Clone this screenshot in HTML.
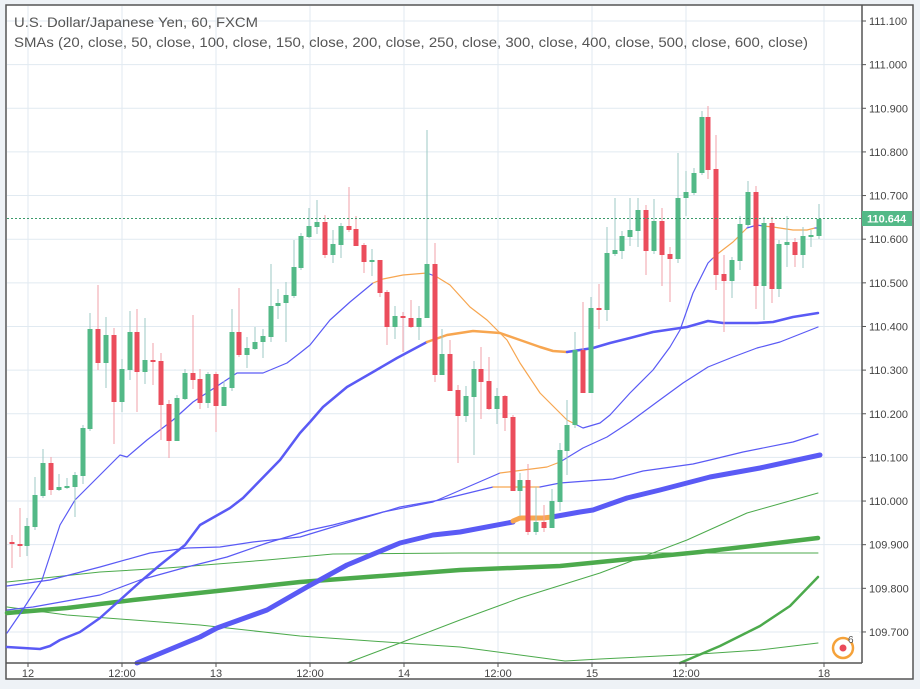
<!DOCTYPE html>
<html><head><meta charset="utf-8"><style>
html,body{margin:0;padding:0;background:#eef2f6;}
body{width:920px;height:689px;overflow:hidden;font-family:"Liberation Sans",sans-serif;}
svg{position:absolute;left:0;top:0;}
</style></head><body>
<svg id="s" width="920" height="689" xmlns="http://www.w3.org/2000/svg">
<rect x="6" y="5" width="907" height="674" fill="#fff" stroke="#555" stroke-width="1.5"/>
<g id="grid" stroke="#e1eaf1" stroke-width="1"></g>
<g id="lines" fill="none" stroke-linejoin="round" stroke-linecap="round"></g>
<g id="candles"></g>
<line x1="7" y1="218.5" x2="862" y2="218.5" stroke="#3b9a6a" stroke-width="1" stroke-dasharray="2,2"/>
<line x1="862" y1="5" x2="862" y2="663" stroke="#555" stroke-width="1.5"/>
<line x1="6" y1="663" x2="862" y2="663" stroke="#555" stroke-width="1.5"/>
<g id="labels" font-size="11" fill="#444"></g>
<rect x="862" y="211" width="50" height="15" fill="#53b987"/>
<text x="867" y="222.5" font-size="11" fill="#fff" font-weight="bold">110.644</text>
<text x="14" y="27" font-size="14" fill="#555" textLength="244" lengthAdjust="spacingAndGlyphs">U.S. Dollar/Japanese Yen, 60, FXCM</text>
<text x="14" y="47" font-size="14" fill="#555" textLength="794" lengthAdjust="spacingAndGlyphs">SMAs (20, close, 50, close, 100, close, 150, close, 200, close, 250, close, 300, close, 400, close, 500, close, 600, close)</text>
<circle cx="843" cy="648" r="10" fill="none" stroke="#f5a23a" stroke-width="2.5"/>
<rect x="849" y="632" width="10" height="10" fill="#fff"/>
<circle cx="843" cy="648" r="3.5" fill="#ea4a5a"/>
<text x="848" y="643" font-size="10" fill="#555">6</text>
</svg>
<script>
var NS="http://www.w3.org/2000/svg";
function el(p,t,a){var e=document.createElementNS(NS,t);for(var k in a)e.setAttribute(k,a[k]);p.appendChild(e);return e;}
var grid=document.getElementById('grid'),lab=document.getElementById('labels');
var labels=["111.100","111.000","110.900","110.800","110.700","110.600","110.500","110.400","110.300","110.200","110.100","110.000","109.900","109.800","109.700"];
for(var i=0;i<15;i++){var y=21+i*43.64;
 el(grid,'line',{x1:7,y1:y,x2:862,y2:y});
 el(lab,'line',{x1:862,y1:y,x2:866,y2:y,stroke:'#555'});
 var t=el(lab,'text',{x:869,y:y+4});t.textContent=labels[i];}
var xs=[[28,"12"],[122,"12:00"],[216,"13"],[310,"12:00"],[404,"14"],[498,"12:00"],[592,"15"],[686,"12:00"],[824,"18"]];
xs.forEach(function(a){el(grid,'line',{x1:a[0],y1:6,x2:a[0],y2:663});
 el(lab,'line',{x1:a[0],y1:663,x2:a[0],y2:667,stroke:'#555'});
 var t=el(lab,'text',{x:a[0],y:677,'text-anchor':'middle'});t.textContent=a[1];});
var L=document.getElementById('lines');
function pl(pts,col,w){el(L,'polyline',{points:pts,stroke:col,'stroke-width':w});}
var B='#5a5af5',O='#f7a650',G='#4caa4c';
pl("7,607 67,615 200,625 300,636 400,643 460,647 520,655 565,661 600,659 700,654 760,650 818,643",G,1);
pl("7,582 100,572 167,568 267,560 333,554 460,553 600,553 818,553",G,1);
pl("347,663 400,643 460,620 520,598 600,573 687,540 747,513 818,493",G,1);
pl("680,663 720,646 760,626 790,606 818,577",G,2.5);
pl("7,613 67,608 133,600 217,591 300,582 367,577 460,570 560,566 620,560 700,552 760,545 818,538",G,4.5);
pl("7,586 50,580 100,567 150,553 187,548 220,547 253,542 300,537 333,527 367,517 400,507 440,500 493,487",B,1.2);
pl("493,487 540,487",O,1.2);
pl("540,487 560,483 613,479 643,471 693,464 710,460 743,452 793,442 818,434",B,1.2);
pl("7,610 33,607 100,595 140,580 187,567 227,557 267,543 310,530 333,525 383,512 433,502 500,473",B,1.2);
pl("500,473 547,467 560,462",O,1.2);
pl("560,462 583,448 607,437 630,422 657,402 683,383 708,367 733,357 757,348 780,342 818,327",B,1.2);
pl("137,663 200,637 217,628 267,610 307,587 347,565 400,543 433,535 460,532 513,522",B,5);
pl("513,521 520,518 543,518 552,517",O,5);
pl("552,517 580,512 593,510 627,498 660,490 710,477 760,468 820,455",B,5);
pl("7,647 40,649 50,646 60,640 80,632 100,618 120,600 140,582 160,565 185,545 200,525 230,508 243,498 280,460 300,433 310,422 323,407 347,387 373,372 397,358 427,342",B,2.5);
pl("427,342 447,335 473,331 500,333 520,340 540,347 553,351 567,352",O,2.5);
pl("567,352 593,348 610,343 630,338 653,332 687,327 708,321 723,323 743,323 757,323 773,322 793,317 818,313",B,2.5);
pl("7,633 20,614 42,580 60,525 75,500 90,485 105,470 120,455 127,457 147,440 173,420 193,402 237,373 263,373 287,363 300,353 310,345 330,320 350,302 373,283",B,1.2);
pl("373,283 383,279 403,275 427,273",O,1.2);
pl("427,273 437,277",B,1.2);
pl("437,277 450,285 470,307 487,320 507,340 520,363 540,393 557,410 567,420 577,425",O,1.2);
pl("577,425 583,428 600,423 610,415 630,393 653,370 670,347 680,330 693,293 708,263 713,258",B,1.2);
pl("713,258 720,252 733,242 747,228",O,1.2);
pl("747,228 757,225 763,226",B,1.2);
pl("763,226 773,227 793,230 807,230 815,228",O,1.2);
pl("815,228 818,228",B,1.2);
var C=[[12,542,544,535,568,'r'],[20,544,546,508,557,'r'],[27,526,546,518,556,'g'],[35,495,527,477,530,'g'],[43,463,496,449,498,'g'],[51,463,490,457,495,'r'],[59,487,490,474,491,'g'],[67,486,488,478,489,'g'],[75,475,487,472,517,'g'],[83,428,476,425,484,'g'],[90,329,429,313,431,'g'],[98,329,363,285,370,'r'],[106,335,363,317,388,'g'],[114,335,402,328,444,'r'],[122,369,402,359,412,'g'],[130,332,370,311,380,'g'],[137,332,372,309,412,'r'],[145,360,372,318,384,'g'],[153,360,362,343,385,'r'],[161,361,405,353,440,'r'],[169,404,441,400,458,'r'],[177,398,441,395,441,'g'],[185,373,399,369,400,'g'],[193,373,380,315,389,'r'],[200,379,403,369,409,'r'],[208,374,403,372,408,'g'],[216,374,406,372,432,'r'],[224,387,406,381,406,'g'],[232,332,388,309,391,'g'],[239,332,355,288,357,'r'],[247,348,355,337,368,'g'],[255,342,349,327,350,'g'],[263,336,342,329,358,'g'],[271,306,337,264,342,'g'],[278,303,306,289,319,'g'],[286,295,303,282,342,'g'],[294,267,296,240,298,'g'],[301,236,268,233,270,'g'],[309,226,237,208,238,'g'],[317,222,227,200,234,'g'],[325,222,255,215,258,'r'],[333,244,255,230,263,'g'],[341,226,245,223,258,'g'],[349,226,230,187,232,'r'],[356,229,246,216,246,'r'],[364,245,262,243,273,'r'],[372,260,262,249,276,'g'],[380,260,293,260,297,'r'],[387,292,327,290,345,'r'],[395,316,327,306,339,'g'],[403,316,318,312,352,'r'],[411,318,327,300,328,'r'],[419,318,327,306,340,'g'],[427,264,318,130,318,'g'],[435,264,375,243,382,'r'],[442,354,375,329,375,'g'],[450,354,391,340,391,'r'],[458,390,416,385,463,'r'],[466,396,416,386,422,'g'],[474,369,397,361,455,'g'],[481,369,382,347,419,'r'],[489,381,409,357,410,'r'],[497,396,409,388,424,'g'],[505,396,418,395,431,'r'],[513,417,491,415,491,'r'],[520,480,491,473,516,'g'],[528,480,532,464,535,'r'],[536,522,532,487,535,'g'],[544,522,528,505,532,'r'],[552,501,528,489,528,'g'],[560,450,502,443,511,'g'],[567,425,451,400,475,'g'],[575,350,425,332,428,'g'],[583,350,393,302,393,'r'],[591,308,393,297,393,'g'],[599,308,310,284,329,'r'],[607,253,310,227,321,'g'],[615,250,254,198,256,'g'],[622,236,251,231,259,'g'],[630,230,237,198,246,'g'],[638,210,231,198,247,'g'],[646,210,251,205,275,'r'],[654,221,251,199,254,'g'],[662,221,255,208,286,'r'],[670,254,259,247,302,'r'],[678,198,259,153,263,'g'],[686,192,198,171,216,'g'],[694,173,193,168,195,'g'],[702,117,173,111,175,'g'],[708,117,170,106,179,'r'],[716,169,275,135,290,'r'],[724,274,281,255,332,'r'],[732,260,281,257,298,'g'],[740,224,261,216,270,'g'],[748,192,225,181,227,'g'],[756,192,286,186,309,'r'],[764,223,286,217,320,'g'],[772,223,289,217,303,'r'],[779,244,289,240,297,'g'],[787,242,245,216,267,'g'],[795,242,255,238,267,'r'],[803,236,255,227,268,'g'],[811,235,237,230,247,'g'],[819,219,236,204,239,'g']];
var CG=document.getElementById('candles');
C.forEach(function(c){var g=c[5]=='g';
 el(CG,'line',{x1:c[0],y1:c[3],x2:c[0],y2:c[4],stroke:g?'#9ec9c4':'#f2a0aa','stroke-width':1});
 var h=Math.max(2,c[2]-c[1]);
 el(CG,'rect',{x:c[0]-2.5,y:c[1],width:5,height:h,fill:g?'#53b987':'#eb4d5c'});});
</script>
</body></html>
